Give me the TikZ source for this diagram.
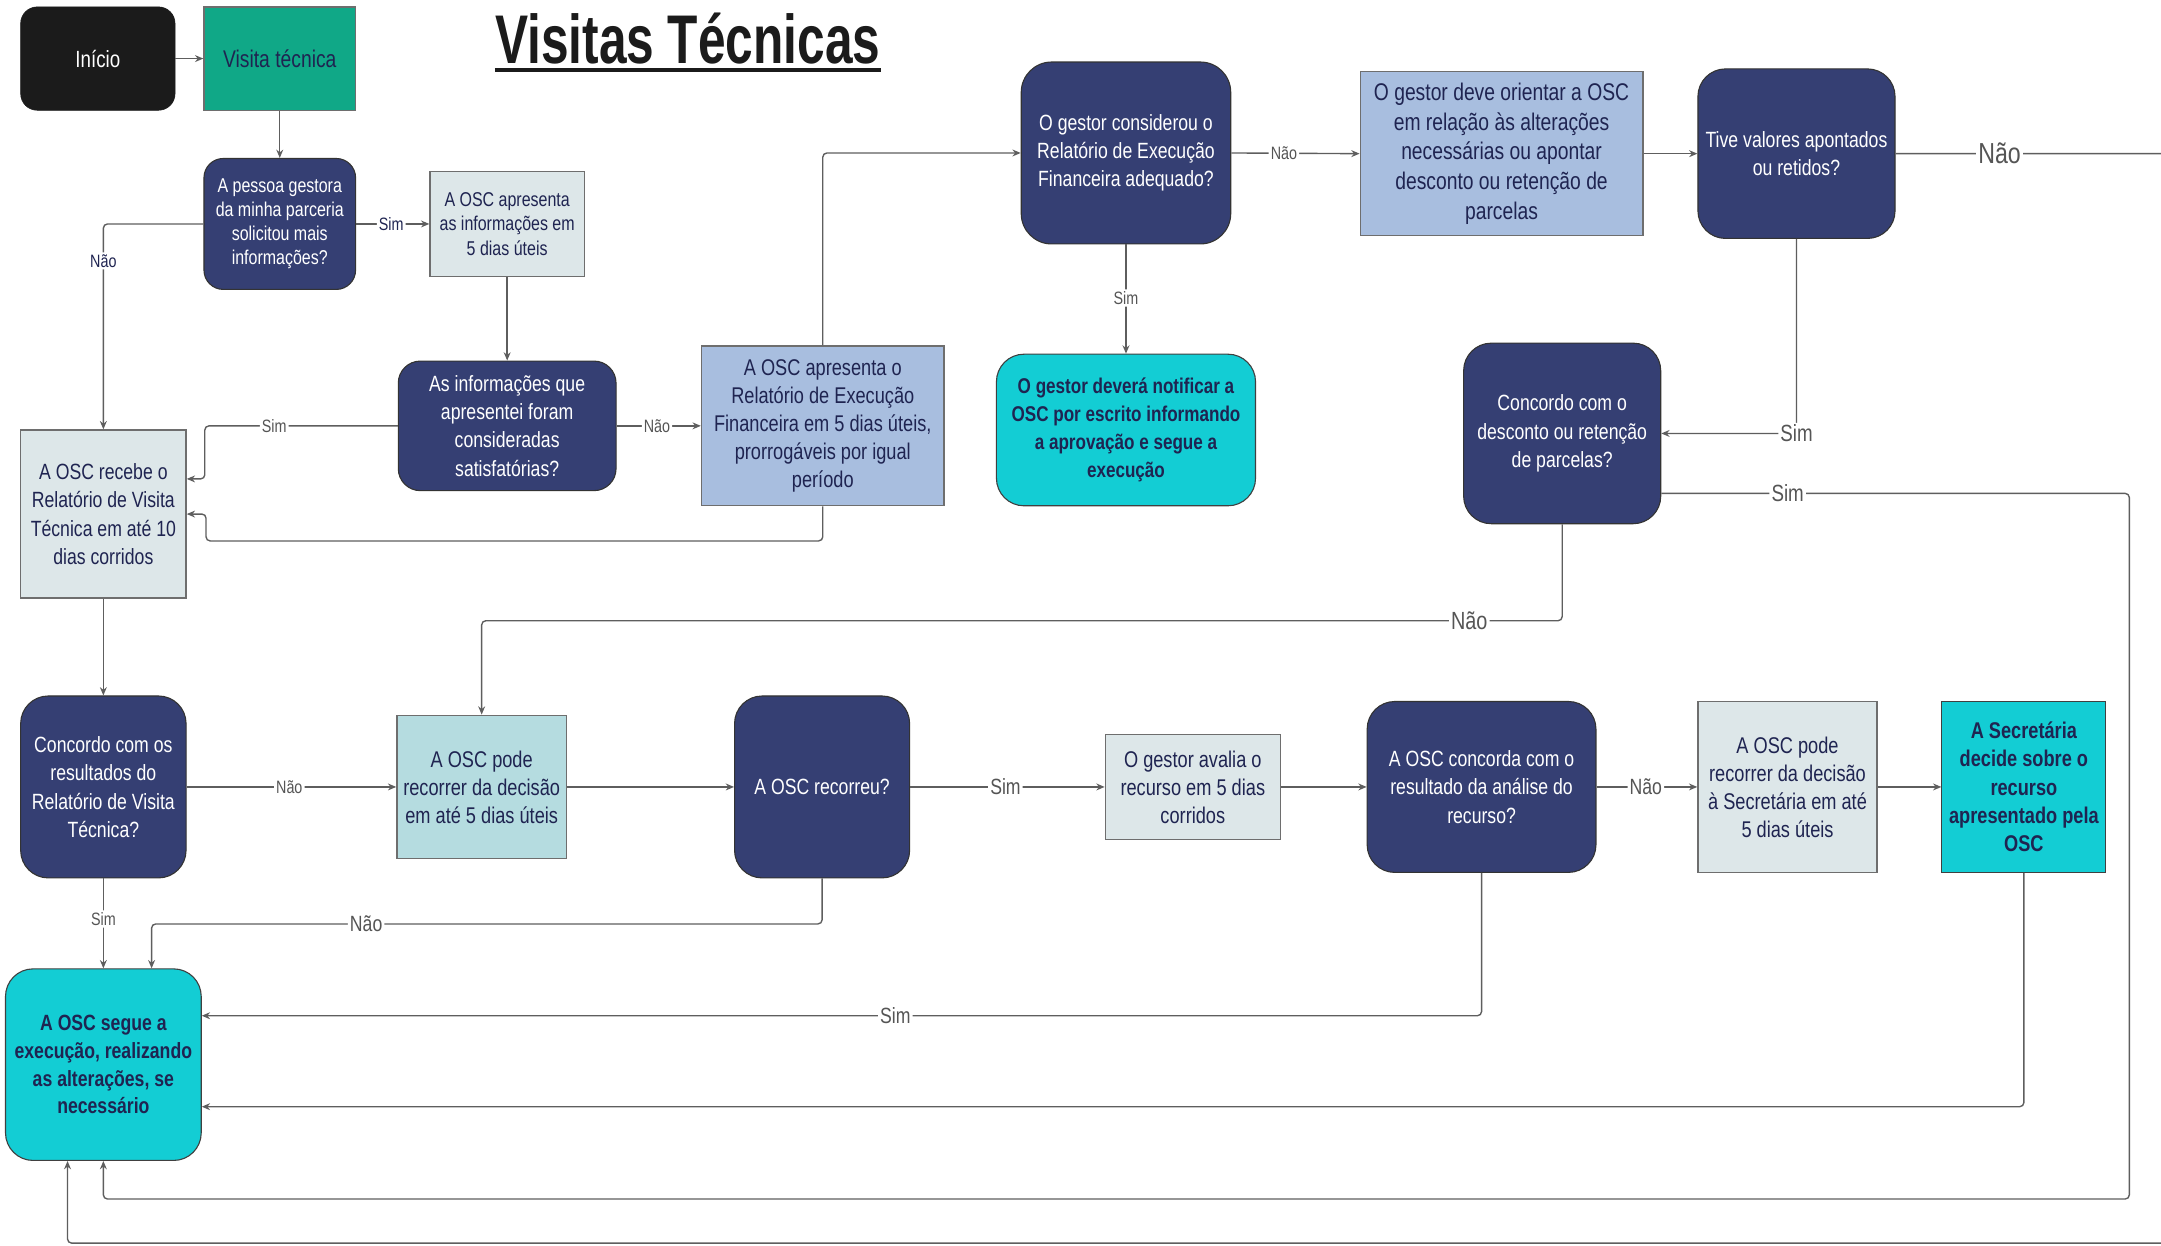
\documentclass[tikz,border=0pt]{standalone}
\usepackage{fontspec}
\setmainfont{Liberation Sans}
\newfontfamily\nf[FakeStretch=0.8]{Liberation Sans}
\newfontfamily\tf[FakeStretch=0.72]{Liberation Sans}
\usetikzlibrary{arrows.meta}
\newcommand\myfs[2]{\fontsize{#1}{#2}\selectfont}
\definecolor{navy}{HTML}{353F73}
\definecolor{lgray}{HTML}{DDE7E9}
\definecolor{lblue}{HTML}{A8BEDF}
\definecolor{lteal}{HTML}{B5DCE0}
\definecolor{cyanb}{HTML}{13CDD4}
\definecolor{greenb}{HTML}{10A887}
\definecolor{blackb}{HTML}{1B1B1B}
\definecolor{txt}{HTML}{1F2451}
\definecolor{linec}{HTML}{5E5E5E}
\definecolor{lblc}{HTML}{555555}
\definecolor{boxline}{HTML}{6E6E6E}
\tikzset{
  base/.style={align=center, inner sep=2pt, font={\nf\myfs{16}{20.5}}},
  rbox/.style={base, draw=boxline, line width=1pt, text=txt},
  qbox/.style={base, fill=navy, draw=black!80, line width=0.8pt, text=white, rounded corners=20pt},
  cbox/.style={base, fill=cyanb, draw=black!75, line width=0.8pt, text=txt, font={\nf\bfseries\myfs{16}{20}}},
  conn/.style={draw=linec, line width=1pt, rounded corners=3pt},
  arr/.style={conn, -{Stealth[length=6pt,width=5pt]}},
  lbl/.style={fill=white, inner sep=1.5pt, text=lblc, font={\nf\myfs{13}{13}}},
  lblb/.style={lbl, font={\nf\myfs{16}{16}}},
}
\begin{document}
\begin{tikzpicture}[x=1pt,y=-1pt]
\useasboundingbox (0,0) rectangle (1568,904);
\fill[white] (0,0) rectangle (1568,904);

% title
\node[font={\tf\bfseries\myfs{50}{50}}, text=blackb, inner sep=0, anchor=base] (title) at (499,46) {Visitas Técnicas};
\draw[line width=3pt, blackb] ([yshift=-5pt]title.base west) -- ([yshift=-5pt]title.base east);

% nodes
\node[base, fill=blackb, draw=blackb, rounded corners=12pt, text=white, minimum width=112pt, minimum height=75pt, font={\nf\myfs{17}{20}}] (inicio) at (71,42.5) {Início};
\node[rbox, fill=greenb, minimum width=110pt, minimum height=75pt, font={\nf\myfs{17.5}{20}}, text=txt] (visita) at (203,42.5) {Visita técnica};
\node[qbox, rounded corners=14pt, minimum width=110pt, minimum height=95pt, font={\nf\myfs{14.5}{17.5}}] (q1) at (203,162.5) {A pessoa gestora\\da minha parceria\\solicitou mais\\informações?};
\node[rbox, fill=lgray, minimum width=112pt, minimum height=76pt, font={\nf\myfs{14.5}{18}}] (b1) at (368,162.5) {A OSC apresenta\\as informações em\\5 dias úteis};
\node[qbox, rounded corners=16pt, minimum width=158pt, minimum height=94pt] (q2) at (368,309) {As informações que\\apresentei foram\\consideradas\\satisfatórias?};
\node[rbox, fill=lgray, minimum width=120pt, minimum height=122pt] (r1) at (75,373) {A OSC recebe o\\Relatório de Visita\\Técnica em até 10\\dias corridos};
\node[rbox, fill=lblue, minimum width=176pt, minimum height=116pt, font={\nf\myfs{16.5}{20.3}}] (b2) at (597,309) {A OSC apresenta o\\Relatório de Execução\\Financeira em 5 dias úteis,\\prorrogáveis por igual\\período};
\node[qbox, rounded corners=22pt, minimum width=152pt, minimum height=132pt, font={\nf\myfs{16}{20.5}}] (q3) at (817,111) {O gestor considerou o\\Relatório de Execução\\Financeira adequado?};
\node[cbox, rounded corners=20pt, minimum width=188pt, minimum height=110pt, font={\nf\bfseries\myfs{15.5}{20.3}}] (n1) at (817,312) {O gestor deverá notificar a\\OSC por escrito informando\\a aprovação e segue a\\execução};
\node[rbox, fill=lblue, minimum width=205pt, minimum height=119pt, font={\nf\myfs{17.5}{21.5}}] (b3) at (1089.5,111.5) {O gestor deve orientar a OSC\\em relação às alterações\\necessárias ou apontar\\desconto ou retenção de\\parcelas};
\node[qbox, minimum width=143pt, minimum height=123pt] (q4) at (1303.5,111.5) {Tive valores apontados\\ou retidos?};
\node[qbox, minimum width=143pt, minimum height=131pt] (q5) at (1133.5,314.5) {Concordo com o\\desconto ou retenção\\de parcelas?};
\node[qbox, minimum width=120pt, minimum height=132pt, font={\nf\myfs{16}{20.7}}] (q6) at (75,571) {Concordo com os\\resultados do\\Relatório de Visita\\Técnica?};
\node[rbox, fill=lteal, minimum width=123pt, minimum height=104pt, font={\nf\myfs{16.5}{20.3}}] (b4) at (349.5,571) {A OSC pode\\recorrer da decisão\\em até 5 dias úteis};
\node[qbox, minimum width=127pt, minimum height=132pt] (q7) at (596.5,571) {A OSC recorreu?};
\node[rbox, fill=lgray, minimum width=127pt, minimum height=76pt, font={\nf\myfs{16.5}{20.3}}] (b5) at (865.5,571) {O gestor avalia o\\recurso em 5 dias\\corridos};
\node[qbox, minimum width=166pt, minimum height=124pt] (q8) at (1075,571) {A OSC concorda com o\\resultado da análise do\\recurso?};
\node[rbox, fill=lgray, minimum width=130pt, minimum height=124pt, font={\nf\myfs{16.5}{20.3}}] (b6) at (1297,571) {A OSC pode\\recorrer da decisão\\à Secretária em até\\5 dias úteis};
\node[cbox, minimum width=119pt, minimum height=124pt, font={\nf\bfseries\myfs{16.5}{20.5}}] (s) at (1468.5,571) {A Secretária\\decide sobre o\\recurso\\apresentado pela\\OSC};
\node[cbox, rounded corners=20pt, minimum width=142pt, minimum height=139pt] (f) at (75,772.5) {A OSC segue a\\execução, realizando\\as alterações, se\\necessário};

\coordinate (offR) at (1576,111.5);
\coordinate (offB) at (1576,902);

% connectors
\draw[arr] (inicio) -- (visita);
\draw[arr] (visita) -- (q1);
\draw[arr] (q1.east) -- node[lbl, text=txt, pos=0.48]{Sim} (b1.west);
\draw[arr] (q1.west) -| node[lbl, text=txt, pos=0.59]{Não} (r1.north);
\draw[arr] (b1) -- (q2);
\draw[arr] (q2.west) -- node[lbl, pos=0.64]{Sim} ++(-140,0) |- ([yshift=-36pt]r1.north east);
\draw[arr] (q2.east) -- node[lbl, pos=0.48]{Não} (b2.west);
\draw[arr] (b2.south) -- ++(0,25) -| ([xshift=14pt]r1.east) -- (r1.east);
\draw[arr] (b2.north) |- (q3.west);
\draw[arr] (q3.east) -- node[lbl, pos=0.41]{Não} (b3.west);
\draw[arr] (q3.south) -- node[lbl, pos=0.49]{Sim} (n1.north);
\draw[arr] (b3.east) -- (q4.west);
\draw[arr] (q4.east) -- node[lbl, font={\nf\myfs{21}{21}}, pos=0.376]{Não} (offR) -- (offB) -| ([xshift=-26pt]f.south);
\draw[arr] (q4.south) |- node[lbl, font={\nf\myfs{17}{17}}, pos=0.5]{Sim} (q5.east);
\draw[arr] ([yshift=-43.5pt]q5.east) -- node[lbl, font={\nf\myfs{17}{17}}, pos=0.27]{Sim} (1545,358) -- (1545,870) -| (f.south);
\draw[arr] (q5.south) -- ++(0,70) -| node[lbl, font={\nf\myfs{18}{18}}, pos=0.043]{Não} (b4.north);
\draw[arr] (r1) -- (q6);
\draw[arr] (q6.east) -- node[lbl, pos=0.49]{Não} (b4.west);
\draw[arr] (q6.south) -- node[lbl, pos=0.45]{Sim} (f.north);
\draw[arr] (b4.east) -- (q7.west);
\draw[arr] (q7.east) -- node[lblb, pos=0.49]{Sim} (b5.west);
\draw[arr] (q7.south) -- ++(0,33) -| node[lblb, pos=0.34]{Não} ([xshift=35pt]f.north);
\draw[arr] (b5.east) -- (q8.west);
\draw[arr] (q8.east) -- node[lblb, pos=0.49]{Não} (b6.west);
\draw[arr] (q8.south) |- node[lblb, pos=0.729]{Sim} ([yshift=35.5pt]f.east);
\draw[arr] (b6.east) -- (s.west);
\draw[arr] (s.south) |- ([yshift=-30.5pt]f.east);
\end{tikzpicture}
\end{document}
